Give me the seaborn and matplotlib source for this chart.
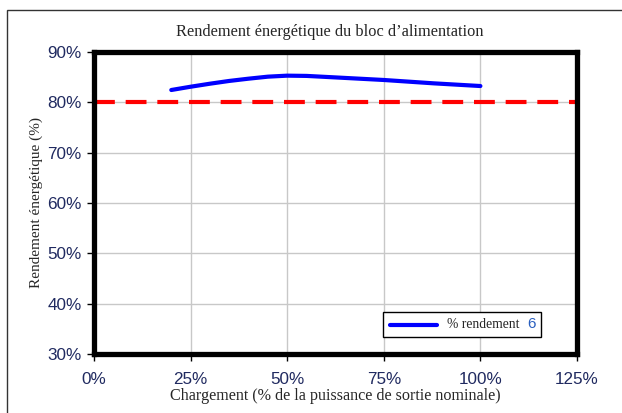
import numpy as np
import pandas as pd
import matplotlib
matplotlib.use("Agg")
import matplotlib.pyplot as plt
import seaborn as sns
from matplotlib.patches import Rectangle
from matplotlib.lines import Line2D

# Data
charge_pct = [20, 25, 30, 35, 40, 45, 50, 55, 62, 75, 88, 100]
rendement_pct = [82.45, 83.1, 83.7, 84.25, 84.7, 85.1, 85.3, 85.25, 84.97, 84.44, 83.77, 83.24]
seuil_pct = 80
x_ticks = [0, 25, 50, 75, 100, 125]
y_ticks = [30, 40, 50, 60, 70, 80, 90]

sns.set_style("white")
serif = ["Liberation Serif", "DejaVu Serif"]
sans = ["Liberation Sans", "DejaVu Sans"]
tick_color = "#202a60"

df = pd.DataFrame({"charge": charge_pct, "rendement": rendement_pct})

fig = plt.figure(figsize=(6.22, 4.13), dpi=100)
ax = fig.add_axes([94 / 622, 1 - 354 / 413, 483 / 622, 302 / 413])

# outer frame of the figure
fig.patches.append(Rectangle((7.5 / 622, -0.1), 1.2, 1 - 9.5 / 413 + 0.1,
                             transform=fig.transFigure, fill=False,
                             edgecolor="#333333", linewidth=1.0))

# grid
for x in x_ticks[1:-1]:
    ax.axvline(x, color="#c8c8c8", linewidth=1, zorder=0)
for y in y_ticks[1:-1]:
    ax.axhline(y, color="#c8c8c8", linewidth=1, zorder=0)

ax.axhline(seuil_pct, color="#ff0000", linewidth=3, linestyle=(0, (5, 2.6)), zorder=2, clip_on=False)

sns.lineplot(data=df, x="charge", y="rendement", ax=ax, color="#0000ff", linewidth=3,
             zorder=3, legend=False)

ax.set_xlim(0, 125)
ax.set_ylim(30, 90)
ax.set_xticks(x_ticks)
ax.set_yticks(y_ticks)
ax.set_xticklabels([f"{v}%" for v in x_ticks])
ax.set_yticklabels([f"{v}%" for v in y_ticks])
ax.tick_params(axis="both", direction="out", length=5, width=1, color="black",
               labelsize=12.3, labelcolor=tick_color, pad=4,
               bottom=True, left=True)
ax.tick_params(axis="x", pad=8)
for lab in ax.get_xticklabels() + ax.get_yticklabels():
    lab.set_family(sans)

for s in ax.spines.values():
    s.set_linewidth(3.8)
    s.set_color("black")

ax.set_xlabel("Chargement (% de la puissance de sortie nominale)", family=serif,
              fontsize=11.6, labelpad=1)
ax.set_ylabel("Rendement énergétique (%)", family=serif, fontsize=11, labelpad=3)
fig.text(330 / 622, 1 - 32 / 413, "Rendement énergétique du bloc d\u2019alimentation",
         family=serif, fontsize=11.8, ha="center", va="center")

# legend box drawn by hand (wide frame with the trailing symbol)
lx0, lx1 = (383 - 94) / 483, (541 - 94) / 483
ly0, ly1 = (354 - 337) / 302, (354 - 312) / 302
ax.add_patch(Rectangle((lx0, ly0), lx1 - lx0, ly1 - ly0, transform=ax.transAxes,
                       facecolor="white", edgecolor="black", linewidth=1, zorder=5))
ymid = (ly0 + ly1) / 2
ax.add_line(Line2D([(390 - 94) / 483, (437 - 94) / 483], [ymid, ymid],
                   transform=ax.transAxes, color="#0000ff", linewidth=3, zorder=6))
ax.text((447 - 94) / 483, ymid, "% rendement", transform=ax.transAxes,
        family=serif, fontsize=9.8, va="center", ha="left", zorder=6)
ax.text((531 - 94) / 483, ymid, "6", transform=ax.transAxes, color="#2a5fbf",
        fontsize=11, family=sans, ha="center", va="center", zorder=6)

fig.savefig("out.png", dpi=100)
